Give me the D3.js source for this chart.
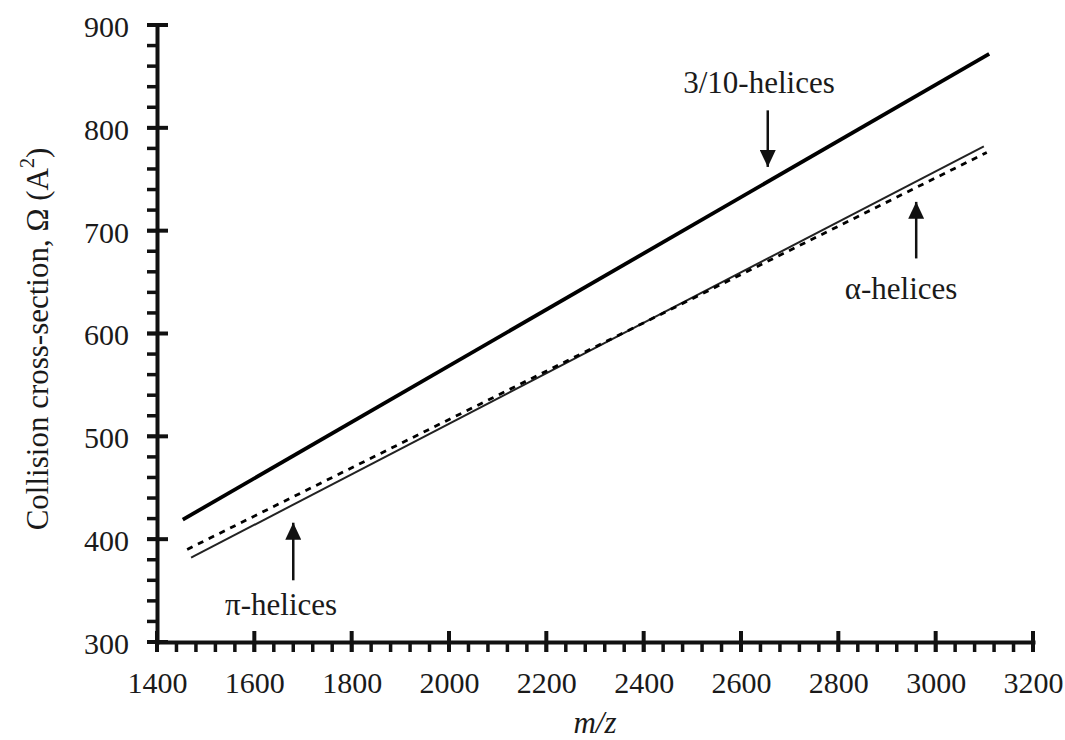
<!DOCTYPE html>
<html>
<head>
<meta charset="utf-8">
<script src="https://cdn.jsdelivr.net/npm/d3@7"></script>
<style>
  body { margin: 0; background: #fff; }
  svg, svg text { font-family: "Liberation Serif", "Times New Roman", serif; }
</style>
</head>
<body>
<svg width="1065" height="740"></svg>
<script>
// data
var mz310 = [1453, 3110];
var ccs310 = [419, 872];
var mzAlpha = [1470, 3099];
var ccsAlpha = [382, 782];
var mzPi = [1462, 3105];
var ccsPi = [390, 776];

var xTicks = [1400, 1600, 1800, 2000, 2200, 2400, 2600, 2800, 3000, 3200];
var yTicks = [300, 400, 500, 600, 700, 800, 900];
var xMinor = d3.range(1400, 3201, 40);
var yMinor = d3.range(300, 901, 20);

// labels with arrows: [label, label x, label y, arrow x, arrow tail y, arrow tip y]
var notes = [
  ["3/10-helices", 2637, 834, 2655, 817, 762],
  ["\u03b1-helices", 2929, 634, 2960, 673, 728],
  ["\u03c0-helices", 1655, 326, 1680, 360, 416]
];

var svg = d3.select('svg');
var x = d3.scaleLinear().domain([1400, 3200]).range([157, 1033]);
var y = d3.scaleLinear().domain([300, 900]).range([642, 25]);

// series
var line = d3.line().x(d => x(d[0])).y(d => y(d[1]));
svg.append('path')
   .datum(d3.zip(mz310, ccs310))
   .attr('d', line).attr('fill', 'none').attr('stroke', '#000').attr('stroke-width', 3.8);
svg.append('path')
   .datum(d3.zip(mzAlpha, ccsAlpha))
   .attr('d', line).attr('fill', 'none').attr('stroke', '#222').attr('stroke-width', 2);
svg.append('path')
   .datum(d3.zip(mzPi, ccsPi))
   .attr('d', line).attr('fill', 'none').attr('stroke', '#000').attr('stroke-width', 2.8)
   .attr('stroke-dasharray', '6,6');

// axes: major ticks cross the line, minor ticks point outward
var xAxis = svg.append('g')
   .attr('transform', 'translate(0,642)')
   .call(d3.axisBottom(x).tickValues(xTicks).tickFormat(d3.format('d'))
           .tickSize(10).tickSizeOuter(0).tickPadding(20));
var yAxis = svg.append('g')
   .attr('transform', 'translate(157,0)')
   .call(d3.axisLeft(y).tickValues(yTicks).tickFormat(d3.format('d'))
           .tickSize(10).tickSizeOuter(0).tickPadding(18));

var ticks = svg.append('g').attr('stroke', '#111');
ticks.selectAll('line.xminor')
   .data(xMinor).join('line').attr('class', 'xminor')
   .attr('x1', d => x(d)).attr('x2', d => x(d))
   .attr('y1', 642).attr('y2', 652)
   .style('stroke-width', '3.5px');
ticks.selectAll('line.yminor')
   .data(yMinor).join('line').attr('class', 'yminor')
   .attr('y1', d => y(d)).attr('y2', d => y(d))
   .attr('x1', 147).attr('x2', 157)
   .style('stroke-width', '3.5px');
ticks.selectAll('line.xmajor')
   .data(xTicks).join('line').attr('class', 'xmajor')
   .attr('x1', d => x(d)).attr('x2', d => x(d))
   .attr('y1', 631).attr('y2', 652)
   .style('stroke-width', '4px');
ticks.selectAll('line.ymajor')
   .data(yTicks).join('line').attr('class', 'ymajor')
   .attr('y1', d => y(d)).attr('y2', d => y(d))
   .attr('x1', 147).attr('x2', 168)
   .style('stroke-width', '4px');

xAxis.selectAll('.tick line').remove();
yAxis.selectAll('.tick line').remove();
yAxis.selectAll('text').attr('dy', '0.38em');
svg.selectAll('.domain')
   .style('stroke-width', '4px').attr('stroke', '#111').attr('stroke-linecap', 'square');
svg.selectAll('g').attr('font-family', null);
svg.selectAll('.tick text').attr('font-size', 30).attr('fill', '#1a1a1a');

// annotations
svg.append('defs').append('marker')
   .attr('id', 'head').attr('viewBox', '0 0 17 16')
   .attr('refX', 17).attr('refY', 8)
   .attr('markerWidth', 17).attr('markerHeight', 16)
   .attr('markerUnits', 'userSpaceOnUse').attr('orient', 'auto')
   .append('path').attr('d', 'M0,0 L17,8 L0,16 Z').attr('fill', '#111');

notes.forEach(function(n){
  svg.append('text')
     .attr('x', x(n[1])).attr('y', y(n[2]))
     .attr('text-anchor', 'middle').attr('font-size', 31).attr('fill', '#1a1a1a')
     .text(n[0]);
  svg.append('line')
     .attr('x1', x(n[3])).attr('y1', y(n[4]))
     .attr('x2', x(n[3])).attr('y2', y(n[5]))
     .attr('stroke', '#111').attr('stroke-width', 2.5)
     .attr('marker-end', 'url(#head)');
});

// axis titles
svg.append('text')
   .attr('x', x(2300)).attr('y', 733)
   .attr('text-anchor', 'middle').attr('font-size', 31).attr('font-style', 'italic')
   .attr('fill', '#1a1a1a').text('m/z');

var yt = svg.append('text')
   .attr('transform', 'translate(48,339) rotate(-90)')
   .attr('text-anchor', 'middle').attr('font-size', 31).attr('fill', '#1a1a1a');
yt.append('tspan').text('Collision cross-section, \u03a9 (A');
yt.append('tspan').attr('font-size', 20).attr('dy', -14).text('2');
yt.append('tspan').attr('dy', 14).text(')');
</script>
</body>
</html>
